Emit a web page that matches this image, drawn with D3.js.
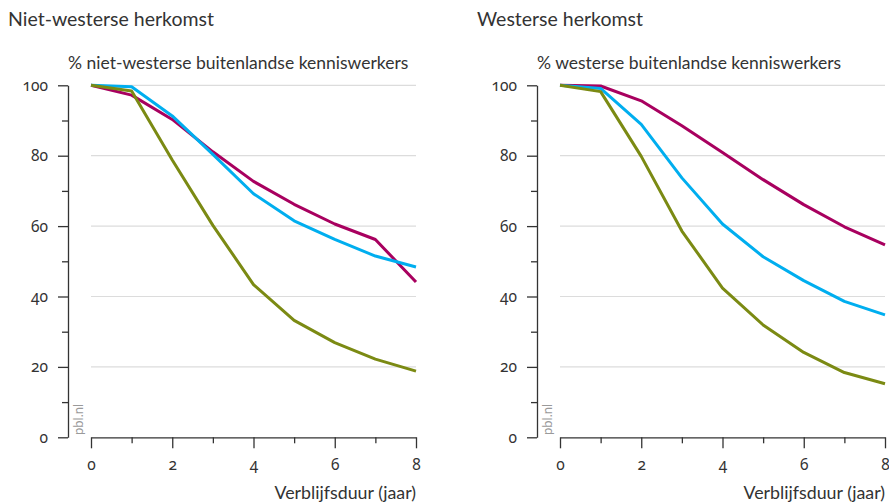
<!DOCTYPE html>
<html><head><meta charset="utf-8">
<script src="https://cdn.jsdelivr.net/npm/d3@7"></script>
<style>
body{margin:0;background:#fff;}
svg text{font-family:Lato,"Noto Sans",sans-serif;fill:#333;}
</style></head><body>
<svg id="c" width="889" height="504"></svg>
<script>
const years = [0,1,2,3,4,5,6,7,8];
const panelTitles = ["Niet-westerse herkomst","Westerse herkomst"];
const yTitles = ["% niet-westerse buitenlandse kenniswerkers","% westerse buitenlandse kenniswerkers"];
const xTitle = "Verblijfsduur (jaar)";
const seriesColors = ["#a8005f","#00aeef","#7b8a13"];
// Niet-westerse
const nwMagenta = [100,97.2,90.3,81.1,72.7,66.2,60.6,56.2,44.1];
const nwBlue    = [100,99.6,91.3,80.4,69.2,61.5,56.2,51.5,48.4];
const nwOlive   = [100,98.4,78.8,60.2,43.4,33.2,26.9,22.2,18.8];
// Westerse
const wMagenta = [100,99.8,95.6,88.5,80.9,73.2,66.1,59.8,54.7];
const wBlue    = [100,99.1,88.9,73.7,60.6,51.3,44.5,38.6,34.8];
const wOlive   = [100,98.2,79.8,58.6,42.4,31.9,24.1,18.4,15.2];
const yTickValues = [0,10,20,30,40,50,60,70,80,90,100];
const gridValues = [20,40,60,80,100];

const panels = [
  {title:panelTitles[0], ytitle:yTitles[0], series:[nwMagenta,nwBlue,nwOlive], titleX:8, axisX:68, x0:91, x1:416},
  {title:panelTitles[1], ytitle:yTitles[1], series:[wMagenta,wBlue,wOlive], titleX:477, axisX:537, x0:560, x1:885}
];
const svg = d3.select("#c");
const y = d3.scaleLinear().domain([0,100]).range([437.3,85.3]);
const onum = sel => sel.style("font-family","'Noto Sans', Lato, sans-serif")
  .style("font-feature-settings",'"onum"').style("font-variant-numeric","oldstyle-nums");

panels.forEach(p=>{
  const g = svg.append("g");
  const x = d3.scaleLinear().domain([0,8]).range([p.x0,p.x1]);
  g.append("text").attr("x",p.titleX).attr("y",26).style("font-size","19.5px").text(p.title);
  g.append("text").attr("x",p.axisX).attr("y",69).style("font-size","17.5px").text(p.ytitle);
  // grid
  g.selectAll("line.grid").data(gridValues).enter().append("line")
    .attr("x1",p.x0).attr("x2",p.x1).attr("y1",d=>y(d)).attr("y2",d=>y(d))
    .attr("stroke","#dcdcdc").attr("stroke-width",1.2);
  // y axis
  const ya = g.append("g").attr("transform",`translate(${p.axisX},0)`)
    .call(d3.axisLeft(y).tickValues(yTickValues).tickSizeOuter(0).tickPadding(10)
      .tickFormat(d=>d%20===0?d:""));
  ya.attr("font-family",null).attr("font-size",null);
  ya.select(".domain").attr("stroke","#333").attr("stroke-width",1.3);
  ya.selectAll(".tick line").attr("stroke","#333").attr("stroke-width",1.3)
    .attr("x2",d=>d%20===0?-10:-6);
  ya.selectAll(".tick text").attr("x",-20).style("font-size","15.5px").attr("fill","#333").call(onum);
  // x axis
  const xa = g.append("g").attr("transform",`translate(0,${y(0)})`)
    .call(d3.axisBottom(x).tickValues(years).tickSizeOuter(0)
      .tickFormat(d=>d%2===0?d:""));
  xa.attr("font-family",null).attr("font-size",null);
  xa.select(".domain").attr("stroke","#333").attr("stroke-width",1.3);
  xa.selectAll(".tick line").attr("stroke","#333").attr("stroke-width",1.3)
    .attr("y2",d=>d%2===0?11:6);
  xa.selectAll(".tick text").attr("y",22).style("font-size","15.5px").attr("fill","#333").call(onum);
  g.append("text").attr("x",p.x1).attr("y",499).attr("text-anchor","end").style("font-size","17.8px").text(xTitle);
  // pbl.nl
  g.append("text").attr("transform",`translate(${p.axisX+15},435) rotate(-90)`)
    .style("font-size","13px").style("fill","#9a9a9a").text("pbl.nl");
  // lines
  const line = d3.line().x((d,i)=>x(years[i])).y(d=>y(d));
  p.series.forEach((s,i)=>{
    g.append("path").datum(s).attr("d",line).attr("fill","none")
      .attr("stroke",seriesColors[i]).attr("stroke-width",3).attr("stroke-linejoin","round");
  });
});
</script></body></html>
